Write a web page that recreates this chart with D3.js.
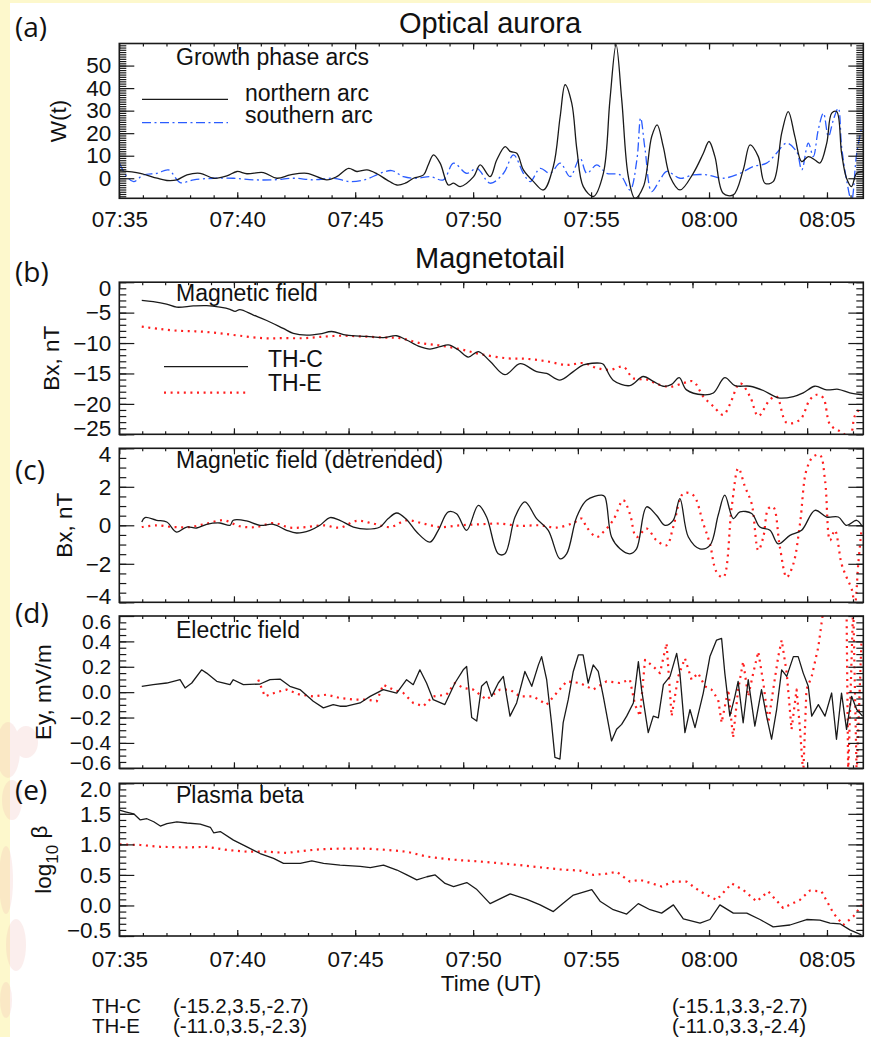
<!DOCTYPE html>
<html>
<head>
<meta charset="utf-8">
<script src="https://cdn.jsdelivr.net/npm/d3@7"></script>
<style>
  body { margin: 0; background: #fff; }
  text { font-family: "Liberation Sans", Arial, Helvetica, sans-serif; fill: #111; }
  .plabel { font-family: "Open Sans", "Noto Sans", sans-serif; }
</style>
</head>
<body>
<div id="viz_container"></div>
<script>
// time is in minutes after 07:35 UT

// (a) optical aurora, arc intensity W(t)
const northernArc = [[0.01,3.4],[0.89,2.2],[1.6,0],[2.02,-1],[2.44,-0.7],[2.87,1.5],[3.43,2.2],[4.0,0],[4.56,1],[4.99,3],[5.41,2],[6.11,2.5],[6.68,0],[7.25,1.5],[7.95,2.2],[8.8,-0.7],[9.22,0.7],[9.72,4.4],[10.07,3],[10.5,3.7],[10.92,2],[11.34,-0.7],[11.77,-3],[12.12,-2.2],[12.47,0],[12.9,1.5],[13.1,6],[13.32,10.4],[13.6,6.7],[13.95,-3],[14.17,-2.2],[14.45,-3.7],[15.02,0.7],[15.3,5.9],[15.72,0.7],[16.0,8.1],[16.36,14],[16.57,11.9],[16.85,11.1],[17.13,3.7],[17.56,-1.5],[17.98,-5.2],[18.4,5.2],[18.69,27.4],[18.9,41.5],[19.18,33.3],[19.4,12.6],[19.67,-3.7],[20.1,-8.1],[20.52,2.2],[20.8,34.8],[21.06,59.3],[21.3,34.8],[21.58,0.7],[21.86,-8.9],[22.22,-3.7],[22.57,18.5],[22.8,23.7],[23.06,14],[23.35,0.7],[23.77,-5.2],[24.33,2.2],[24.76,11.1],[25.0,16.3],[25.25,9.6],[25.6,-6.7],[26.03,-7.4],[26.45,3.7],[26.74,14.8],[27.09,9.6],[27.37,-2.2],[27.72,-1.5],[28.08,20],[28.36,29.6],[28.64,18.5],[28.93,7.4],[29.21,9.6],[29.49,8.1],[29.7,6.7],[29.99,15.6],[30.2,28.9],[30.41,29.6],[30.62,11.1],[30.83,0],[31.04,-3.7],[31.26,2.2],[31.54,3]];
const southernArc = [[0.01,6.7],[0.32,0.7],[0.61,-1.5],[1.03,1.5],[1.6,2.2],[2.09,3.7],[2.58,-1.9],[3.15,-0.7],[4.0,0],[4.84,0],[5.69,-0.7],[6.54,-0.7],[7.39,0],[8.23,-0.7],[9.08,0],[9.79,-1.5],[10.49,-0.4],[11.06,2.2],[11.55,3.4],[12.05,0.7],[12.61,0],[13.18,0.7],[13.74,-0.7],[14.17,6.7],[14.73,2.2],[15.16,4.4],[15.72,-2.2],[16.29,2.2],[16.71,10.4],[17.13,2.2],[17.42,-1.5],[17.84,4.4],[18.26,2.2],[18.69,6.7],[19.11,0.7],[19.53,8.9],[19.82,2.2],[20.24,5.9],[20.66,2.2],[21.23,1.5],[21.65,-5.2],[21.94,8.1],[22.1,26.7],[22.29,12.6],[22.57,-5.9],[22.92,-0.7],[23.21,3],[23.77,0],[24.33,1.5],[24.9,1.5],[25.6,0],[26.31,2.2],[26.88,5.2],[27.44,6.7],[27.86,11.1],[28.29,15.6],[28.71,11.9],[28.93,3.7],[29.21,15.6],[29.42,9.6],[29.63,21.5],[29.85,28.9],[30.06,18.5],[30.27,25.9],[30.48,31.1],[30.62,14],[30.83,-0.7],[31.04,-10],[31.26,11.1],[31.48,23]];

// (b) magnetic field Bx, nT
const bxC = [[0.98,-3.0],[1.48,-3.2],[2.06,-3.6],[2.5,-4.1],[3.23,-3.9],[3.81,-3.85],[4.39,-4.1],[4.83,-4.45],[5.05,-4.8],[5.26,-4.5],[5.85,-5.4],[6.43,-6.3],[7.15,-7.6],[7.59,-8.4],[8.17,-8.7],[8.75,-8.5],[9.26,-8.1],[9.91,-8.7],[10.79,-8.9],[11.51,-9.1],[12.1,-8.8],[12.53,-9.5],[13.11,-10.6],[13.55,-11.0],[13.99,-10.6],[14.35,-10.3],[14.78,-11.1],[15.22,-12.3],[15.66,-11.4],[16.17,-13.0],[16.82,-15.2],[17.48,-13.4],[18.2,-14.7],[18.64,-15.0],[19.22,-16.1],[19.8,-14.7],[20.24,-13.6],[20.96,-13.3],[21.11,-13.5],[21.54,-16.1],[22.27,-17.0],[22.85,-15.5],[23.29,-16.3],[23.72,-17.1],[24.09,-16.8],[24.42,-15.7],[24.74,-17.7],[25.47,-18.5],[25.91,-18.2],[26.41,-15.7],[26.85,-17.0],[27.51,-17.1],[28.09,-17.8],[28.74,-19.0],[29.4,-18.8],[29.83,-18.2],[30.34,-17.1],[30.85,-17.7],[31.36,-17.6],[31.86,-18.2],[32.42,-18.5]];
const bxE = [[0.98,-7.3],[1.78,-7.7],[2.65,-8.0],[3.52,-8.1],[4.39,-8.4],[5.26,-8.8],[6.28,-9.2],[7.15,-9.2],[8.03,-9.2],[8.75,-9.0],[9.62,-8.8],[10.5,-8.9],[11.51,-9.1],[12.24,-9.2],[13.11,-10.0],[13.99,-10.4],[14.86,-11.0],[15.73,-11.8],[16.89,-12.5],[17.77,-12.6],[18.64,-13.0],[19.51,-13.6],[20.24,-13.3],[20.82,-14.1],[21.4,-14.4],[21.98,-13.9],[22.42,-15.8],[23.0,-16.0],[23.44,-16.7],[24.02,-17.2],[24.6,-16.6],[25.03,-16.3],[25.47,-18.8],[25.91,-20.4],[26.34,-21.8],[26.63,-20.1],[27.07,-16.6],[27.51,-18.8],[27.87,-22.0],[28.38,-19.3],[28.67,-18.8],[29.11,-23.1],[29.69,-22.6],[30.12,-19.3],[30.41,-18.5],[30.7,-19.0],[31.0,-23.4],[31.43,-24.5],[31.86,-25.3],[32.08,-22.0],[32.38,-20.4]];

// (c) detrended Bx, nT
const bxDetC = [[0.98,0.17],[1.12,0.4],[1.63,0.26],[2.07,0.17],[2.5,-0.35],[2.94,-0.09],[3.37,-0.14],[3.81,0.05],[4.39,0.12],[4.83,0],[4.97,0.26],[5.55,0.23],[6.14,0],[6.72,0.05],[7.3,-0.26],[7.73,-0.4],[8.32,-0.26],[8.75,0],[9.19,0.4],[9.62,0.26],[10.21,-0.09],[10.79,-0.2],[11.37,-0.09],[11.73,0.35],[12.1,0.64],[12.53,0.3],[12.97,-0.35],[13.55,-0.87],[13.91,-0.26],[14.35,0.7],[14.71,0.6],[15.15,-0.26],[15.66,1.04],[16.02,0.43],[16.53,-1.48],[16.82,-1.48],[17.26,0.43],[17.69,1.22],[18.2,0.35],[18.71,-0.26],[19.22,-1.74],[19.51,-1.48],[19.95,0.43],[20.38,1.3],[21.04,1.57],[21.18,1.48],[21.47,-0.61],[21.84,-1.22],[22.27,-1.48],[22.56,-1.22],[23.0,0.96],[23.43,0.52],[23.8,0],[24.16,0.26],[24.45,1.39],[24.82,-0.61],[25.32,-1.22],[25.76,-1.04],[26.12,0.52],[26.41,1.57],[26.78,0.35],[27.07,0.7],[27.58,0.61],[27.94,-0.09],[28.38,-0.26],[28.74,-0.96],[29.25,-0.52],[29.76,-0.26],[30.34,0.78],[30.85,0.43],[31.36,0.43],[31.72,0],[32.16,0.26],[32.42,-0.09]];
const bxDetE = [[0.98,-0.09],[1.63,0],[2.36,-0.09],[3.08,-0.09],[3.81,0.09],[4.54,0.26],[5.26,-0.05],[5.99,-0.09],[6.72,0.12],[7.44,-0.12],[8.17,-0.09],[8.9,0],[9.62,-0.12],[10.35,0.23],[11.08,0.09],[11.81,-0.09],[12.53,0.26],[13.26,0.09],[13.99,-0.09],[14.86,0],[15.73,0.05],[16.6,0.09],[17.47,-0.03],[18.35,0],[19.07,-0.12],[19.8,0.12],[20.17,0.35],[20.38,-0.09],[20.82,-0.61],[21.11,-0.35],[21.54,0.26],[21.98,1.3],[22.27,0.6],[22.56,-0.61],[23.0,-0.17],[23.43,-0.78],[23.87,-1.04],[24.16,-0.09],[24.6,1.65],[25.03,1.57],[25.47,0.09],[25.76,-0.96],[26.05,-2.43],[26.34,-2.7],[26.71,0.96],[27.0,2.96],[27.29,2.0],[27.58,1.13],[27.87,-1.3],[28.09,-0.61],[28.31,0.87],[28.52,0.96],[28.81,-1.13],[29.11,-2.7],[29.4,-2.0],[29.69,0.09],[29.97,2.87],[30.27,3.57],[30.56,3.65],[30.78,2.35],[31.0,-0.78],[31.21,-0.26],[31.5,-2.0],[31.72,-2.7],[31.94,-3.3],[32.08,-4.1],[32.23,-2.0],[32.37,-0.26]];

// (d) electric field Ey, mV/m
const eyC = [[0.98,0.046],[1.48,0.059],[2.07,0.072],[2.65,0.098],[2.87,0.033],[3.16,0.072],[3.59,0.176],[3.81,0.15],[4.25,0.085],[4.83,0.059],[4.97,0.098],[5.41,0.059],[6.14,0.064],[6.57,0.098],[7.01,0.103],[7.44,0.046],[7.88,0.02],[8.46,-0.072],[8.9,-0.124],[9.33,-0.098],[9.62,-0.111],[9.91,-0.111],[10.5,-0.085],[10.94,-0.033],[11.51,0.02],[12.1,-0.007],[12.53,0.098],[12.82,0.059],[13.11,0.176],[13.4,0.072],[13.69,-0.059],[14.2,-0.098],[14.64,0.072],[15.0,0.176],[15.15,0.202],[15.37,-0.2],[15.59,-0.228],[15.8,0.046],[16.02,0.085],[16.24,-0.033],[16.53,0.072],[16.75,0.124],[17.04,-0.189],[17.33,-0.085],[17.69,0.163],[17.99,0.046],[18.28,0.215],[18.42,0.28],[18.64,0.098],[18.85,-0.24],[19.0,-0.514],[19.22,-0.527],[19.36,-0.24],[19.58,-0.059],[19.8,0.163],[20.02,0.293],[20.23,0.293],[20.45,0.072],[20.67,0.215],[20.89,0.163],[21.11,-0.033],[21.47,-0.384],[21.69,-0.293],[21.91,-0.254],[22.13,-0.189],[22.42,-0.085],[22.64,0.241],[22.78,0.02],[23.07,-0.319],[23.29,-0.189],[23.51,-0.202],[23.73,0.059],[24.02,0.124],[24.31,0.306],[24.45,0.15],[24.67,-0.319],[24.89,-0.137],[25.11,-0.28],[25.47,-0.007],[25.76,0.28],[26.05,0.41],[26.27,0.423],[26.41,0.15],[26.63,-0.189],[26.85,-0.033],[26.99,0.085],[27.21,-0.241],[27.43,0.098],[27.72,-0.267],[28.01,0.02],[28.23,-0.189],[28.45,-0.371],[28.67,-0.137],[28.89,0.176],[29.11,0.124],[29.4,0.28],[29.61,0.28],[29.83,0.15],[30.05,0.046],[30.2,-0.189],[30.49,-0.098],[30.78,-0.189],[31.07,-0.007],[31.28,-0.371],[31.5,-0.007],[31.72,-0.293],[31.94,-0.033],[32.16,-0.137],[32.42,-0.189]];
const eyE = [[6.06,0.098],[6.35,-0.033],[6.86,0.0],[7.3,0.02],[7.88,-0.02],[8.46,-0.033],[9.04,-0.02],[9.62,-0.046],[10.21,-0.059],[10.79,-0.059],[11.23,-0.072],[11.51,0.059],[11.95,0.02],[12.39,-0.007],[12.82,-0.085],[13.26,-0.111],[13.69,-0.033],[14.27,-0.02],[14.64,0.072],[15.0,0.033],[15.44,0.02],[16.02,-0.059],[16.6,0.02],[17.04,0.02],[17.47,-0.033],[18.05,-0.033],[18.64,-0.098],[19.07,-0.007],[19.51,0.085],[20.09,0.072],[20.67,0.02],[21.25,0.085],[21.83,0.072],[22.27,0.098],[22.49,-0.098],[22.71,-0.189],[22.93,0.254],[23.29,0.202],[23.58,0.15],[23.87,0.384],[24.09,-0.189],[24.38,0.124],[24.67,0.267],[24.96,0.098],[25.25,0.15],[25.54,0.046],[25.83,0.02],[26.12,-0.059],[26.27,-0.241],[26.56,0.02],[26.77,-0.358],[26.99,0.02],[27.21,0.241],[27.43,-0.033],[27.65,0.15],[27.87,0.319],[28.09,0.072],[28.31,-0.241],[28.52,0.02],[28.74,0.28],[28.89,0.41],[29.11,0.15],[29.32,-0.293],[29.54,0.02],[29.69,-0.293],[29.83,-0.65],[29.97,0.02],[30.2,0.124],[30.49,0.358],[30.71,0.65],[31.21,0.9],[31.72,0.65],[31.79,-0.65],[32.01,0.7],[32.16,-0.65],[32.37,0.4]];

// (e) plasma beta, log10
const betaC = [[0.01,1.56],[0.3,1.53],[0.61,1.5],[0.89,1.4],[1.17,1.42],[1.46,1.37],[1.74,1.3],[2.02,1.34],[2.44,1.37],[2.87,1.35],[3.43,1.33],[3.86,1.28],[4.0,1.19],[4.28,1.21],[4.84,1.07],[5.41,0.96],[5.97,0.85],[6.54,0.77],[6.96,0.69],[7.67,0.69],[8.16,0.73],[8.66,0.69],[9.36,0.66],[10.21,0.64],[10.64,0.62],[11.2,0.66],[11.77,0.58],[12.19,0.5],[12.61,0.42],[13.04,0.47],[13.39,0.5],[13.81,0.36],[14.17,0.31],[14.73,0.375],[15.16,0.26],[15.72,0.03],[16.57,0.19],[17.28,0.1],[17.84,0.01],[18.4,-0.1],[18.83,0.04],[19.25,0.17],[20.03,0.26],[20.38,0.07],[20.94,-0.07],[21.51,-0.14],[22.0,0.03],[22.5,-0.07],[22.99,-0.125],[23.49,0.01],[23.91,-0.22],[24.62,-0.29],[25.04,-0.23],[25.46,0.01],[26.03,-0.125],[26.6,-0.125],[27.16,-0.23],[27.72,-0.35],[28.43,-0.32],[29.14,-0.23],[29.7,-0.24],[30.13,-0.29],[30.55,-0.3],[30.97,-0.4],[31.46,-0.48]];
const betaE = [[0.01,1.0],[0.89,0.99],[1.74,0.96],[2.87,0.95],[3.71,0.96],[4.56,0.91],[5.41,0.88],[6.26,0.88],[7.1,0.86],[7.95,0.9],[8.52,0.92],[9.36,0.93],[10.49,0.93],[11.34,0.91],[12.19,0.88],[13.04,0.8],[13.88,0.76],[14.45,0.74],[15.3,0.72],[16.14,0.69],[16.99,0.66],[17.84,0.625],[18.69,0.59],[19.53,0.57],[20.1,0.5],[20.66,0.52],[21.09,0.55],[21.65,0.39],[22.07,0.42],[22.5,0.37],[22.99,0.31],[23.49,0.39],[24.05,0.39],[24.62,0.23],[25.32,0.09],[25.96,0.36],[26.45,0.255],[27.02,0.065],[27.51,0.23],[28.14,-0.04],[28.85,0.09],[29.28,0.245],[29.77,0.23],[30.27,-0.125],[30.69,-0.32],[31.12,-0.18],[31.48,0.01]];

// tick labels
const wTicks = [0, 10, 20, 30, 40, 50];
const bxTicks = [0, -5, -10, -15, -20, -25];
const bxDetTicks = [4, 2, 0, -2, -4];
const eyTicks = [0.6, 0.4, 0.2, 0.0, -0.2, -0.4, -0.6];
const betaTicks = [2.0, 1.5, 1.0, 0.5, 0.0, -0.5];
const timeTicks = [0, 5, 10, 15, 20, 25, 30];

// spacecraft positions at start / end
const probes = ["TH-C", "TH-E"];
const posStart = ["(-15.2,3.5,-2.7)", "(-11.0,3.5,-2.3)"];
const posEnd = ["(-15.1,3.3,-2.7)", "(-11.0,3.3,-2.4)"];

var createFigure = () => {
  const width = 871, height = 1037;
  const svg = d3.select("#viz_container")
    .append("svg")
    .attr("width", width)
    .attr("height", height);

  // slide background bits on the left
  svg.append("rect").attr("width", width).attr("height", height).attr("fill", "#fff");
  svg.append("rect").attr("width", 10).attr("height", height).attr("fill", "#fdf8cc");
  svg.append("rect").attr("width", width).attr("height", 3).attr("fill", "#fdf8cc");
  const blotches = svg.append("g").attr("fill", "#f0b4b0").attr("opacity", 0.22);
  [[8, 750, 12, 28], [26, 742, 12, 16], [12, 800, 10, 20], [6, 880, 7, 34], [16, 945, 10, 26], [6, 1000, 6, 18]]
    .forEach(d => blotches.append("ellipse").attr("cx", d[0]).attr("cy", d[1]).attr("rx", d[2]).attr("ry", d[3]));

  const left = 119.3, right = 863.3;
  const black = "#1a1a1a", red = "#ff1e1e", blue = "#2a5cff";
  const fmtTime = m => d3.utcFormat("%H:%M")(new Date(Date.UTC(2008, 1, 26, 7, 35) + m * 60000));

  const solid = { stroke: black, width: 1.3, dash: null };
  const dotted = { stroke: red, width: 2.2, dash: "2,4.6" };
  const dashDot = { stroke: blue, width: 1.3, dash: "9,3.5,2,3.5" };

  const panels = [
    { id: "a", top: 43.5, bottom: 198.3, tmax: 31.54, ydom: [-8.9, 59.8], ticks: wTicks, minor: 1,
      series: [[southernArc, dashDot], [northernArc, solid]], curve: d3.curveCatmullRom,
      ylabel: "W(t)", ylx: 66, xlabels: 28.5, note: "Growth phase arcs", noteY: 64.5, tag: 37 },
    { id: "b", top: 282.2, bottom: 434.3, tmax: 32.45, ydom: [-25, 0], ticks: bxTicks, minor: 1,
      series: [[bxE, dotted], [bxC, solid]], curve: d3.curveCatmullRom,
      ylabel: "Bx, nT", ylx: 59, note: "Magnetic field", noteY: 300.5, tag: 282 },
    { id: "c", top: 448.3, bottom: 602.3, tmax: 32.45, ydom: [-4, 4], ticks: bxDetTicks, minor: 0.5,
      series: [[bxDetE, dotted], [bxDetC, solid]], curve: d3.curveCatmullRom,
      ylabel: "Bx, nT", ylx: 72, note: "Magnetic field (detrended)", noteY: 468, tag: 480 },
    { id: "d", top: 616, bottom: 768.3, tmax: 32.45, ydom: [-0.6, 0.6], ticks: eyTicks, minor: 0.05,
      series: [[eyE, dotted], [eyC, solid]], curve: d3.curveLinear, fmt: d3.format(".1f"), tickFont: 21,
      ylabel: "Ey, mV/m", ylx: 51, note: "Electric field", noteY: 637.5, tag: 623 },
    { id: "e", top: 783.3, bottom: 936, tmax: 31.54, ydom: [-0.5, 2.0], ticks: betaTicks, minor: 0.1,
      series: [[betaE, dotted], [betaC, solid]], curve: d3.curveLinear, fmt: d3.format(".1f"),
      ylabel: null, ylx: 51, xlabels: 31, note: "Plasma beta", noteY: 803, tag: 800 }
  ];

  panels.forEach(p => {
    const x = d3.scaleLinear().domain([0, p.tmax]).range([left, right]);
    const y = d3.scaleLinear().domain(p.ydom).range([p.bottom, p.top]);
    const g = svg.append("g");

    // clip so off-scale excursions stop at the frame
    svg.append("clipPath").attr("id", "clip-" + p.id)
      .append("rect").attr("x", left).attr("y", p.top)
      .attr("width", right - left).attr("height", p.bottom - p.top);

    const lines = g.append("g").attr("clip-path", `url(#clip-${p.id})`);
    p.series.forEach(([data, st]) => {
      lines.append("path")
        .datum(data)
        .attr("fill", "none")
        .attr("stroke", st.stroke)
        .attr("stroke-width", st.width)
        .attr("stroke-dasharray", st.dash)
        .attr("stroke-linejoin", "round")
        .attr("d", d3.line().x(d => x(d[0])).y(d => y(d[1])).curve(p.curve));
    });

    // y axes, ticks point inward
    const yMinor = d3.range(Math.ceil(p.ydom[0] / p.minor), Math.floor(p.ydom[1] / p.minor) + 1)
      .map(k => +(k * p.minor).toFixed(3));
    const styleAxis = a => {
      a.select(".domain").remove();
      a.selectAll("line").attr("stroke", black).attr("stroke-width", 1.2);
      a.attr("font-size", 22.5);
      a.selectAll("text").attr("fill", "#111");
    };
    g.append("g").attr("transform", `translate(${left},0)`)
      .call(d3.axisLeft(y).tickValues(yMinor).tickSize(-7).tickFormat("")).call(styleAxis);
    g.append("g").attr("transform", `translate(${right},0)`)
      .call(d3.axisRight(y).tickValues(yMinor).tickSize(-7).tickFormat("")).call(styleAxis);
    g.append("g").attr("transform", `translate(${left},0)`)
      .call(d3.axisLeft(y).tickValues(p.ticks).tickSize(-15).tickPadding(8).tickFormat(p.fmt || d3.format("d")))
      .call(styleAxis)
      .attr("font-size", p.tickFont || 22.5)
      .selectAll(".tick text")
      // end labels are nudged inside the frame
      .attr("y", d => {
        const yy = y(d);
        if (yy - p.top < 6) return 6 - (yy - p.top);
        if (p.bottom - yy < 6) return -(6 - (p.bottom - yy));
        return 0;
      });
    g.append("g").attr("transform", `translate(${right},0)`)
      .call(d3.axisRight(y).tickValues(p.ticks).tickSize(-15).tickFormat("")).call(styleAxis);

    // time axes
    const tMinor = d3.range(1, Math.floor(p.tmax) + 1);
    [[d3.axisBottom, p.bottom], [d3.axisTop, p.top]].forEach(([ax, yy]) => {
      g.append("g").attr("transform", `translate(0,${yy})`)
        .call(ax(x).tickValues(tMinor).tickSize(-3).tickFormat("")).call(styleAxis);
      g.append("g").attr("transform", `translate(0,${yy})`)
        .call(ax(x).tickValues(timeTicks).tickSize(-6).tickFormat("")).call(styleAxis);
    });
    if (p.xlabels) {
      g.append("g").attr("transform", `translate(0,${p.bottom})`)
        .call(d3.axisBottom(x).tickValues(timeTicks).tickSize(0).tickFormat(fmtTime))
        .call(styleAxis)
        .selectAll("text").attr("y", p.xlabels).attr("dy", 0);
    }

    // frame
    g.append("rect")
      .attr("x", left).attr("y", p.top)
      .attr("width", right - left).attr("height", p.bottom - p.top)
      .attr("fill", "none").attr("stroke", black).attr("stroke-width", 1.6);

    // annotations
    g.append("text").attr("x", 176).attr("y", p.noteY).attr("font-size", 23).text(p.note);
    g.append("text").attr("class", "plabel").attr("x", 15).attr("y", p.tag)
      .attr("font-size", 28).text(`(${p.id})`);
    const yl = g.append("text")
      .attr("transform", `translate(${p.ylx},${(p.top + p.bottom) / 2}) rotate(-90)`)
      .attr("text-anchor", "middle").attr("font-size", 22.5);
    if (p.ylabel) yl.text(p.ylabel);
    else {
      yl.append("tspan").text("log");
      yl.append("tspan").attr("dy", 7).attr("font-size", 17).text("10");
      yl.append("tspan").attr("dy", -11).text(" β");
    }
  });

  // titles
  svg.append("text").attr("x", 490).attr("y", 33).attr("text-anchor", "middle")
    .attr("font-size", 29).text("Optical aurora");
  svg.append("text").attr("x", 490).attr("y", 268.3).attr("text-anchor", "middle")
    .attr("font-size", 29).text("Magnetotail");
  svg.append("text").attr("x", 491).attr("y", 991).attr("text-anchor", "middle")
    .attr("font-size", 22.5).text("Time (UT)");

  // legends
  const leg = svg.append("g");
  [[99.3, 100.5, "northern arc", solid], [122.7, 122.7, "southern arc", dashDot]].forEach(([ly, ty, label, st]) => {
    leg.append("line").attr("x1", 142).attr("x2", 228).attr("y1", ly).attr("y2", ly)
      .attr("stroke", st.stroke).attr("stroke-width", st.width).attr("stroke-dasharray", st.dash);
    leg.append("text").attr("x", 245).attr("y", ty).attr("font-size", 23).text(label);
  });
  [[366.7, 367.3, probes[0], solid], [392.7, 390.7, probes[1], dotted]].forEach(([ly, ty, label, st]) => {
    leg.append("line").attr("x1", 164).attr("x2", 248).attr("y1", ly).attr("y2", ly)
      .attr("stroke", st.stroke).attr("stroke-width", st.width).attr("stroke-dasharray", st.dash);
    leg.append("text").attr("x", 268).attr("y", ty).attr("font-size", 23).text(label);
  });

  // probe positions
  const pos = svg.append("g").attr("font-size", 20.5);
  probes.forEach((name, i) => {
    const yy = 1013 + i * 20;
    pos.append("text").attr("x", 92).attr("y", yy).text(name);
    pos.append("text").attr("x", 173).attr("y", yy).text(posStart[i]);
    pos.append("text").attr("x", 672).attr("y", yy).text(posEnd[i]);
  });
};

createFigure();
</script>
</body>
</html>
